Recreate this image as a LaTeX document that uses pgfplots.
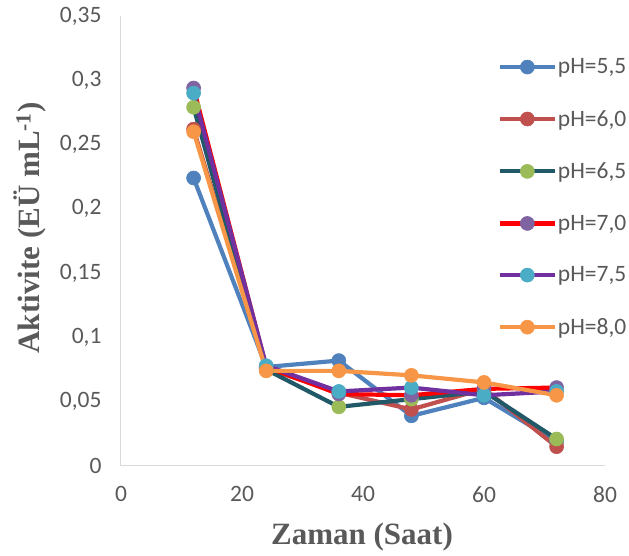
\documentclass[border=0pt]{standalone}
\usepackage{fontspec}
\setmainfont{Carlito}
\newfontfamily\timesf{Liberation Serif}
\usepackage{pgfplots}
\pgfplotsset{compat=1.18}
\definecolor{axgray}{HTML}{D9D9D9}
\definecolor{lblgray}{HTML}{595959}
\definecolor{cA}{HTML}{4F81BD}
\definecolor{cB}{HTML}{C0504D}
\definecolor{cCl}{HTML}{215968}
\definecolor{cCm}{HTML}{9BBB59}
\definecolor{cDl}{HTML}{FF0000}
\definecolor{cDm}{HTML}{8064A2}
\definecolor{cEl}{HTML}{7030A0}
\definecolor{cEm}{HTML}{4BACC6}
\definecolor{cF}{HTML}{F79646}
\begin{document}
\begin{tikzpicture}
\begin{axis}[
  at={(0pt,0pt)}, anchor=south west,
  scale only axis, width=484pt, height=450pt,
  xmin=0, xmax=80, ymin=0, ymax=0.35,
  axis x line=bottom, axis y line=left,
  axis line style={draw=axgray, line width=1pt, -},
  xtick={0,20,40,60,80}, xticklabels={0,20,40,60,80},
  ytick={0,0.05,0.1,0.15,0.2,0.25,0.3,0.35},
  yticklabels={0,{0,05},{0,1},{0,15},{0,2},{0,25},{0,3},{0,35}},
  major tick length=0pt,
  tick label style={font=\fontsize{23.5}{28}\selectfont, text=lblgray},
  xticklabel style={yshift=-17pt},
  yticklabel style={xshift=-16pt},
  xlabel={\timesf\bfseries Zaman (Saat)},
  ylabel={\timesf\bfseries Aktivite (EÜ mL\textsuperscript{-1})},
  label style={font=\fontsize{31}{36}\selectfont, text=lblgray},
  xlabel style={at={(rel axis cs:0.498,-0.158)}, anchor=center},
  ylabel style={at={(rel axis cs:-0.188,0.529)}, anchor=center, rotate=0},
  every axis plot/.append style={line width=4.2pt, mark=*, mark size=7pt},
  legend style={draw=none, fill=none, at={(rel axis cs:0.778,0.597)}, anchor=west,
    font=\fontsize{23.5}{28}\selectfont, text=lblgray, row sep=33pt, inner sep=0pt,
    nodes={inner sep=1pt}},
  legend cell align=left,
  legend image code/.code={\draw[mark repeat=2,mark phase=2,#1] plot coordinates {(0pt,0pt) (27.5pt,0pt) (55pt,0pt)};},
]
\addplot[color=cA, mark options={fill=cA, draw=cA, line width=0.6pt}] coordinates {(12,0.224) (24,0.077) (36,0.082) (48,0.039) (60,0.053) (72,0.019)};
\addlegendentry{pH=5,5}
\addplot[color=cB, mark options={fill=cB, draw=cB, line width=0.6pt}] coordinates {(12,0.262) (24,0.076) (36,0.057) (48,0.044) (60,0.060) (72,0.015)};
\addlegendentry{pH=6,0}
\addplot[color=cCl, mark options={fill=cCm, draw=cCm, line width=0.6pt}] coordinates {(12,0.279) (24,0.075) (36,0.046) (48,0.052) (60,0.058) (72,0.021)};
\addlegendentry{pH=6,5}
\addplot[color=cDl, mark options={fill=cDm, draw=cDm, line width=0.6pt}] coordinates {(12,0.294) (24,0.077) (36,0.056) (48,0.055) (60,0.060) (72,0.061)};
\addlegendentry{pH=7,0}
\addplot[color=cEl, mark options={fill=cEm, draw=cEm, line width=0.6pt}] coordinates {(12,0.290) (24,0.078) (36,0.058) (48,0.061) (60,0.055) (72,0.058)};
\addlegendentry{pH=7,5}
\addplot[color=cF, mark options={fill=cF, draw=cF, line width=0.6pt}] coordinates {(12,0.260) (24,0.074) (36,0.074) (48,0.0705) (60,0.065) (72,0.055)};
\addlegendentry{pH=8,0}
\end{axis}
\pgfresetboundingbox
\path (-121pt,-90pt) rectangle (508pt,466pt);
\end{tikzpicture}
\end{document}
